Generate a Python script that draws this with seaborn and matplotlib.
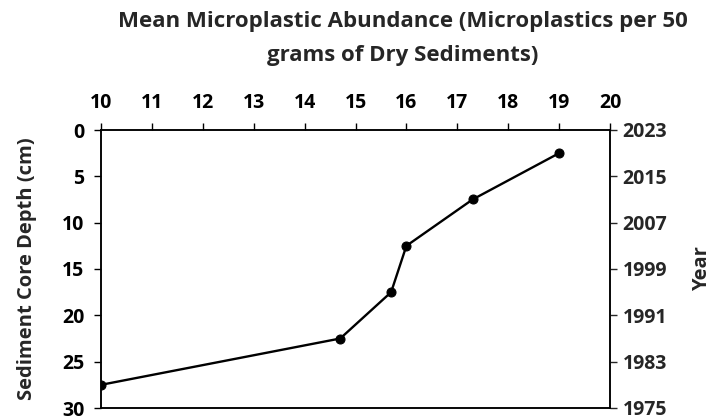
import matplotlib
matplotlib.use("Agg")
import matplotlib.pyplot as plt
import seaborn as sns
import pandas as pd

# Mean microplastic abundance per sediment-core depth interval
depth_cm = [27.5, 22.5, 17.5, 12.5, 7.5, 2.5]
abundance = [10.0, 14.7, 15.7, 16.0, 17.3, 19.0]
x_ticks = [10, 11, 12, 13, 14, 15, 16, 17, 18, 19, 20]
depth_ticks = [0, 5, 10, 15, 20, 25, 30]
year_ticks = [2023, 2015, 2007, 1999, 1991, 1983, 1975]

sns.set_style("ticks")
plt.rcParams["font.family"] = ["Open Sans", "DejaVu Sans"]
plt.rcParams["font.weight"] = "bold"

df = pd.DataFrame({"abundance": abundance, "depth": depth_cm})

fig = plt.figure(figsize=(7.26, 4.19), dpi=100)
ax = fig.add_axes([101 / 726, 1 - 408 / 419, (610 - 101) / 726, (408 - 130) / 419])

sns.lineplot(data=df, x="abundance", y="depth", sort=False, ax=ax,
             color="black", linewidth=1.7, marker="o", markersize=6.5,
             markeredgecolor="black", markerfacecolor="black")

ax.set_xlim(10, 20)
ax.set_ylim(30, 0)
ax.set_xticks(x_ticks)
ax.set_yticks(depth_ticks)
ax.xaxis.tick_top()
ax.xaxis.set_label_position("top")
ax.set_xlabel("")
ax.set_ylabel("Sediment Core Depth (cm)", fontsize=14.5, fontweight="bold", labelpad=18)
ax.tick_params(axis="x", direction="out", length=5, width=1, colors="black",
               labelsize=14, pad=7)
ax.tick_params(axis="y", direction="out", length=5, width=1, colors="black",
               labelsize=14, pad=7)
for lab in ax.get_xticklabels() + ax.get_yticklabels():
    lab.set_fontweight("bold")
for s in ax.spines.values():
    s.set_visible(True)
    s.set_color("black")
    s.set_linewidth(1.1)

# Secondary axis: estimated deposition year
ax2 = ax.twinx()
ax2.set_ylim(1975, 2023)
ax2.set_yticks(year_ticks)
ax2.tick_params(axis="y", direction="out", length=5, width=1, labelsize=14, pad=4)
for lab in ax2.get_yticklabels():
    lab.set_fontweight("bold")
ax2.set_ylabel("Year", fontsize=14.5, fontweight="bold", labelpad=18)
for s in ax2.spines.values():
    s.set_color("black")
    s.set_linewidth(1.1)

fig.text(403 / 726, 1 - 22 / 419, "Mean Microplastic Abundance (Microplastics per 50",
         ha="center", va="center", fontsize=16, fontweight="bold")
fig.text(403 / 726, 1 - 55 / 419, "grams of Dry Sediments)",
         ha="center", va="center", fontsize=16, fontweight="bold")

fig.savefig("out.png", dpi=100)
